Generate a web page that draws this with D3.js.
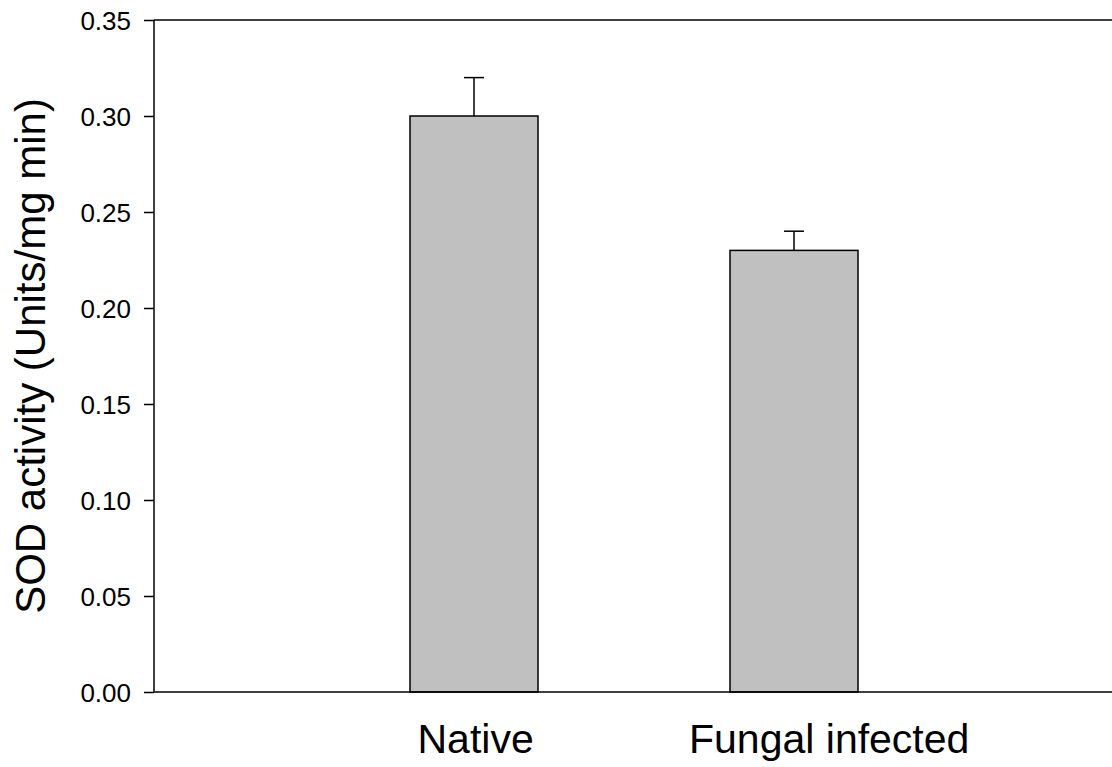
<!DOCTYPE html>
<html>
<head>
<meta charset="utf-8">
<script src="https://cdn.jsdelivr.net/npm/d3@7"></script>
<style>
    body { margin: 0; background: #fff; }
    text { font-family: "Liberation Sans", Arial, sans-serif; fill: #000; }
</style>
</head>
<body>
<div id="chart"></div>
<script>
// data
var categories = ["Native", "Fungal infected"];
var values = [0.30, 0.23];
var errors = [0.02, 0.01];
var labelPos = [1.005, 2.11]; // label centres in category units (as drawn in the original)
var yTicks = [0, 0.05, 0.10, 0.15, 0.20, 0.25, 0.30, 0.35];

var W = 1112, H = 767;
var margin = {top: 20, left: 154, right: -2, bottom: 75};
var width = W - margin.left - margin.right,
    height = H - margin.top - margin.bottom;

var svg = d3.select("#chart")
    .append("svg")
    .attr("width", W)
    .attr("height", H);

var g = svg.append("g")
    .attr("transform", "translate(" + margin.left + "," + margin.top + ")");

var x = d3.scaleLinear().domain([0, 3]).range([0, width]);
var y = d3.scaleLinear().domain([0, 0.35]).range([height, 0]);
var barW = (x(1) - x(0)) * 0.4;

// bars
g.selectAll(".bar")
    .data(values)
    .enter().append("rect")
    .attr("class", "bar")
    .attr("x", (d, i) => x(i + 1) - barW / 2)
    .attr("y", d => y(d))
    .attr("width", barW)
    .attr("height", d => y(0) - y(d))
    .attr("fill", "#c0c0c0")
    .attr("stroke", "#000")
    .attr("stroke-width", 1.5);

// error bars (upper only)
var capW = 20;
values.forEach(function (v, i) {
    var cx = x(i + 1);
    g.append("line")
        .attr("x1", cx).attr("x2", cx)
        .attr("y1", y(v)).attr("y2", y(v + errors[i]))
        .attr("stroke", "#000").attr("stroke-width", 1.5);
    g.append("line")
        .attr("x1", cx - capW / 2).attr("x2", cx + capW / 2)
        .attr("y1", y(v + errors[i])).attr("y2", y(v + errors[i]))
        .attr("stroke", "#000").attr("stroke-width", 1.5);
});

// y axis
var yAxis = g.append("g")
    .call(d3.axisLeft(y)
        .tickValues(yTicks)
        .tickSize(10)
        .tickPadding(13)
        .tickFormat(d3.format(".2f")));
yAxis.select(".domain").remove();
yAxis.selectAll(".tick line").attr("stroke", "#000").attr("stroke-width", 1.5);
yAxis.selectAll(".tick text")
    .style("font-family", '"Liberation Sans", Arial, sans-serif')
    .style("font-size", "26px")
    .attr("dy", "0.35em");

// frame lines: left, top, bottom
g.append("line")
    .attr("x1", 0).attr("x2", 0).attr("y1", 0).attr("y2", height)
    .attr("stroke", "#000").attr("stroke-width", 1.5);
g.append("line")
    .attr("x1", 0).attr("x2", width).attr("y1", 0).attr("y2", 0)
    .attr("stroke", "#000").attr("stroke-width", 1.5);
g.append("line")
    .attr("x1", 0).attr("x2", width).attr("y1", height).attr("y2", height)
    .attr("stroke", "#000").attr("stroke-width", 1.5);

// category labels
g.selectAll(".cat")
    .data(categories)
    .enter().append("text")
    .attr("class", "cat")
    .attr("x", (d, i) => x(labelPos[i]))
    .attr("y", height + 61)
    .attr("text-anchor", "middle")
    .style("font-size", "41px")
    .text(d => d);

// y title
svg.append("text")
    .attr("transform", "translate(45," + (margin.top + height / 2) + ") rotate(-90)")
    .attr("text-anchor", "middle")
    .style("font-size", "42px")
    .text("SOD activity (Units/mg min)");
</script>
</body>
</html>
